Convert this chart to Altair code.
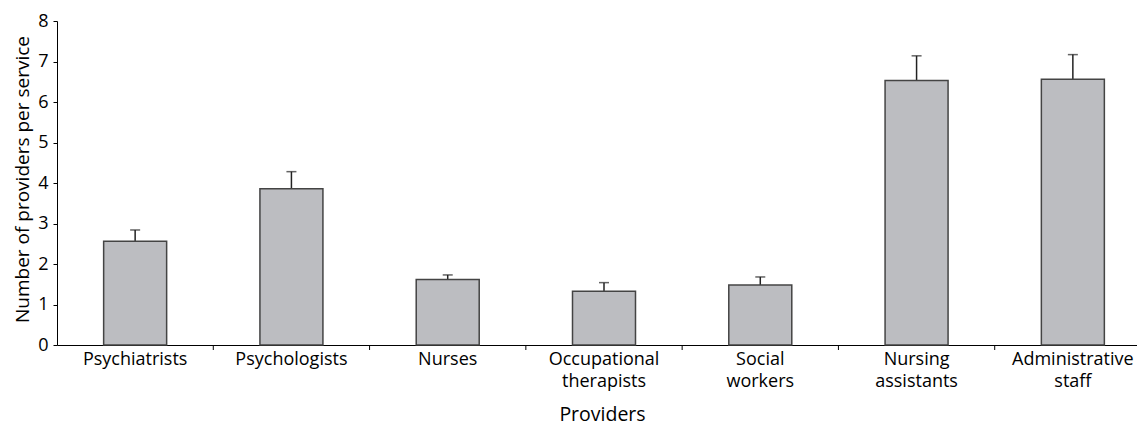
import altair as alt
import pandas as pd

categories = ["Psychiatrists", "Psychologists", "Nurses", "Occupational therapists",
              "Social workers", "Nursing assistants", "Administrative staff"]
means = [2.56, 3.86, 1.62, 1.33, 1.48, 6.53, 6.56]
upper = [2.84, 4.28, 1.73, 1.54, 1.68, 7.14, 7.17]
y_ticks = [0, 1, 2, 3, 4, 5, 6, 7, 8]

df = pd.DataFrame({"cat": categories, "mean": means, "upper": upper})
edges = pd.DataFrame({"cat": categories[1:]})

FONT = "Open Sans"
PLOT_H = 324

xenc = alt.X("cat:N", sort=categories, title="Providers",
             scale=alt.Scale(paddingInner=0, paddingOuter=0, range=[0, 1094]),
             axis=alt.Axis(labelExpr="split(datum.label, ' ')", labelAngle=0,
                           labelAlign="center", labelBaseline="top",
                           ticks=False, labelPadding=5, labelLineHeight=22,
                           labelFontSize=18, titleFontSize=19.5,
                           labelColor="black", titleColor="black",
                           domainColor="black", labelFont=FONT, titleFont=FONT,
                           titleFontWeight="normal", titleBaseline="alphabetic",
                           titleY=75, titleX=545, titleAlign="center"))
yenc = alt.Y("mean:Q", title="Number of providers per service",
             scale=alt.Scale(domain=[0, 8], nice=False),
             axis=alt.Axis(values=y_ticks, grid=False, tickSize=4, tickColor="black",
                           domainColor="black", labelFontSize=18, titleFontSize=19,
                           labelColor="black", titleColor="black", labelPadding=5,
                           labelFont=FONT, titleFont=FONT, titleFontWeight="normal",
                           titleX=-29, titleY=158, titleBaseline="alphabetic",
                           titleAlign="center", titleAngle=270))

base = alt.Chart(df)

err = base.mark_rule(color="#222222", strokeWidth=1.5).encode(
    x=alt.X("cat:N", sort=categories), y="mean:Q", y2="upper:Q")
cap = base.mark_tick(color="#222222", thickness=1.5, size=10, orient="horizontal").encode(
    x=alt.X("cat:N", sort=categories), y="upper:Q")
bars = base.mark_bar(size=63, fill="#bcbdc1", stroke="#444444", strokeWidth=1.5).encode(
    x=xenc, y=yenc)
ticks = alt.Chart(edges).mark_rule(color="black", strokeWidth=1).encode(
    x=alt.X("cat:N", sort=categories, bandPosition=0),
    y=alt.value(PLOT_H), y2=alt.value(PLOT_H + 5))

chart = alt.layer(err, cap, bars, ticks).properties(
    width=1080, height=PLOT_H,
    autosize=alt.AutoSizeParams(type="none"),
    padding={"left": 49, "top": 13, "right": 0, "bottom": 80},
).configure_view(stroke=None)

chart.save("out.html", embed_options={"renderer": "svg", "actions": False})
